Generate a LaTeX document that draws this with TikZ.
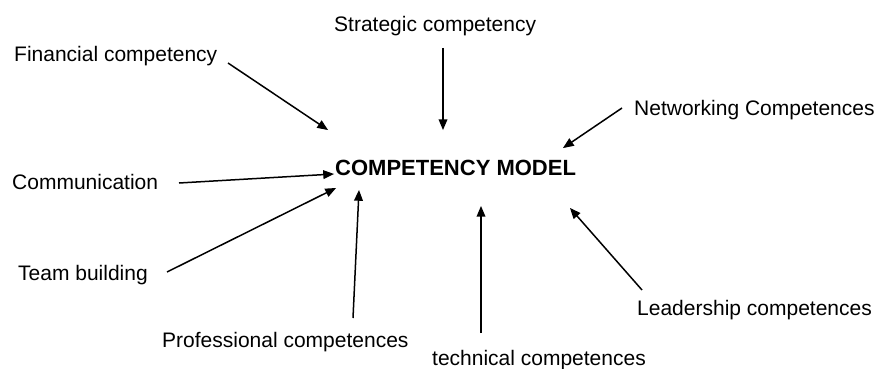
\documentclass[tikz,border=0pt]{standalone}
\usepackage{fontspec}
\setmainfont{Liberation Sans}
\usetikzlibrary{arrows}
\begin{document}
\begin{tikzpicture}[x=1pt,y=-1pt]
\tikzstyle{every node}=[inner sep=0pt, anchor=base west, font=\fontsize{21}{25}\selectfont]
\tikzstyle{arr}=[-triangle 45, line width=1.5pt]
\useasboundingbox (0,0) rectangle (886,369);
\node (cm) at (335,175) {\fontsize{22}{26}\selectfont\bfseries COMPETENCY MODEL};
\node (fin) at (14,62) {Financial competency};
\node (strat) at (334,32) {Strategic competency};
\node (net) at (634,115) {Networking Competences};
\node (comm) at (12,189) {Communication};
\node (team) at (18,280) {Team building};
\node (prof) at (162,347) {Professional competences};
\node (tech) at (432,365) {technical competences};
\node (lead) at (637,315) {Leadership competences};
% arrow ends
\coordinate (fin-s) at (228,63);
\coordinate (fin-e) at (328,130);
\coordinate (strat-s) at (443,48);
\coordinate (strat-e) at (443,130);
\coordinate (net-s) at (622,108);
\coordinate (net-e) at (563,148);
\coordinate (comm-s) at (179,183);
\coordinate (comm-e) at (334,174);
\coordinate (team-s) at (167,272);
\coordinate (team-e) at (336,188);
\coordinate (prof-s) at (353,318);
\coordinate (prof-e) at (359,190);
\coordinate (tech-s) at (481,333);
\coordinate (tech-e) at (481,206);
\coordinate (lead-s) at (642,290);
\coordinate (lead-e) at (570,208);
\draw[arr] (fin-s) -- (fin-e);
\draw[arr] (strat-s) -- (strat-e);
\draw[arr] (net-s) -- (net-e);
\draw[arr] (comm-s) -- (comm-e);
\draw[arr] (team-s) -- (team-e);
\draw[arr] (prof-s) -- (prof-e);
\draw[arr] (tech-s) -- (tech-e);
\draw[arr] (lead-s) -- (lead-e);
\end{tikzpicture}
\end{document}
